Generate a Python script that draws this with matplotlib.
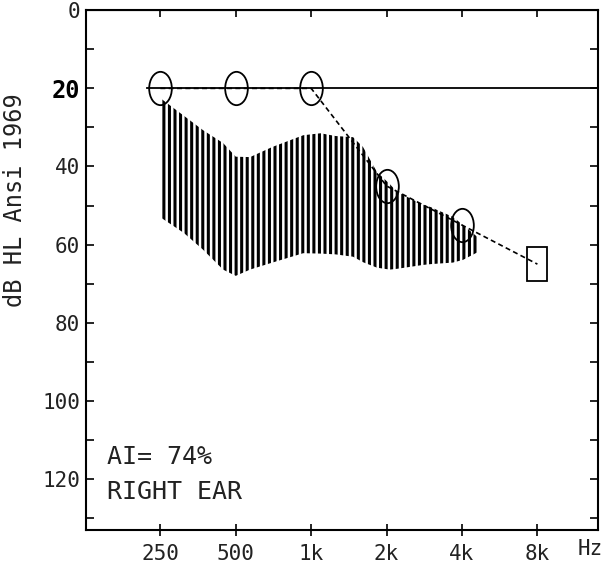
import matplotlib.pyplot as plt
from matplotlib.markers import MarkerStyle
from matplotlib.transforms import Affine2D
from matplotlib.ticker import MultipleLocator, NullLocator

plt.rcParams['font.family'] = ['DejaVu Sans Mono']
plt.rcParams['hatch.linewidth'] = 2.2

# audiogram, right ear
freqs = [250, 500, 1000, 2000, 4000, 8000]
freq_labels = ['250', '500', '1k', '2k', '4k', '8k']
thresholds = [20, 20, 20, 45, 55, 65]
db_ticks = [0, 20, 40, 60, 80, 100, 120]

# normal line at 20 dB
ref_hz = [222, 14000]
ref_db = [20, 20]

# speech area (hatched)
banana_hz = [250, 310, 370, 445, 500, 570, 700, 930, 1090, 1250, 1470,
             1610, 1830, 2060, 2200, 2800, 3000, 3680, 4040, 4600]
banana_top = [22.5, 27, 30.7, 34, 37.5, 37.6, 35, 32, 31.5, 32.2, 32.5,
              35, 41.4, 44.5, 46.5, 49.8, 50.4, 52.9, 55, 58]
banana_bottom = [53, 57, 61.3, 66.4, 68, 66.4, 64.6, 62.2, 62.3, 62.5, 63.1,
                 64.5, 65.9, 66.4, 66.2, 65.2, 65, 64.6, 63.9, 62]

fig = plt.figure(figsize=(6.13, 5.69), dpi=100)
ax = fig.add_axes([0.140, 0.069, 0.836, 0.913])

ax.fill_between(banana_hz, banana_top, banana_bottom, facecolor='none',
                edgecolor='black', hatch='|||', linewidth=0)

ax.plot(ref_hz, ref_db, color='black', lw=1.3)
ax.plot(freqs, thresholds, color='black', lw=1.2, ls=(0, (3, 2)))

ellipse = MarkerStyle('o', fillstyle='none', transform=Affine2D().scale(0.68, 1))
box = MarkerStyle('s', fillstyle='none', transform=Affine2D().scale(0.62, 1))
ax.plot(freqs[:5], thresholds[:5], ls='none', marker=ellipse, ms=24,
        mec='black', mew=1.3)
ax.plot(freqs[5:], thresholds[5:], ls='none', marker=box, ms=24,
        mec='black', mew=1.3)

ax.set_xscale('log', base=2)
ax.set_xlim(126, 14000)
ax.set_ylim(133, 0)

ax.set_xticks(freqs, freq_labels)
ax.xaxis.set_minor_locator(NullLocator())
ax.tick_params(axis='x', which='major', direction='inout', length=9,
               width=1.2, labelsize=15, pad=6, labelcolor='#222222')
top = ax.secondary_xaxis('top')
top.set_xticks(freqs)
top.xaxis.set_minor_locator(NullLocator())
top.tick_params(direction='in', length=5, width=1.2, labeltop=False)

ax.set_yticks(db_ticks)
ax.yaxis.set_minor_locator(MultipleLocator(10))
ax.tick_params(axis='y', which='both', direction='in', length=6, width=1.2,
               left=True, right=True, labelsize=15, pad=4, labelcolor='#222222')
lbl20 = ax.get_yticklabels()[1]
lbl20.set_fontweight('bold')
lbl20.set_fontsize(17)
lbl20.set_color('black')

for sp in ax.spines.values():
    sp.set_linewidth(1.5)

ax.set_ylabel('dB HL Ansi 1969', fontsize=17, color='#222222')
ax.yaxis.set_label_coords(-0.115, 0.635)

ax.text(0.041, 0.14, 'AI= 74%', transform=ax.transAxes, fontsize=18,
        va='center', color='#222222')
ax.text(0.041, 0.073, 'RIGHT EAR', transform=ax.transAxes, fontsize=18,
        va='center', color='#222222')
ax.text(0.984, -0.038, 'Hz', transform=ax.transAxes, fontsize=15,
        ha='center', va='center', color='#222222')

fig.savefig('out.png', dpi=100)
